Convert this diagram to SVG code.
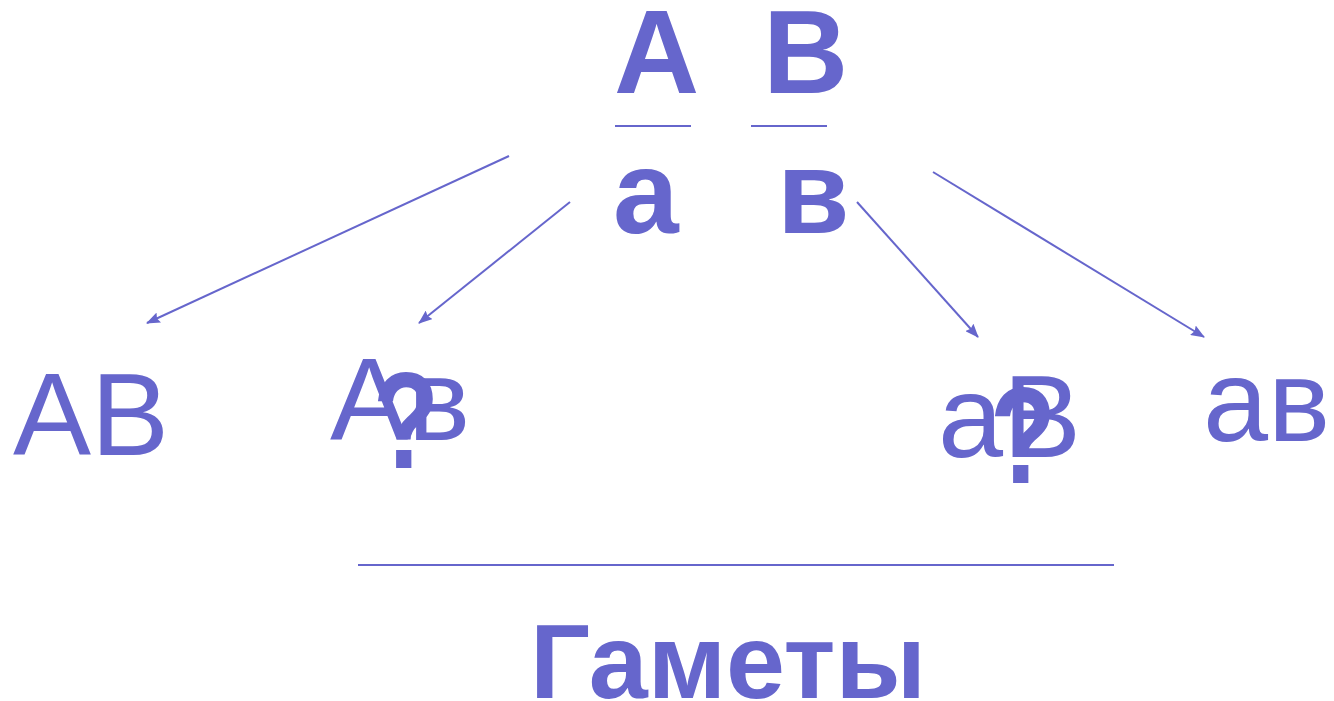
<svg xmlns="http://www.w3.org/2000/svg" width="1334" height="701" viewBox="0 0 1334 701">
<defs>
<style>
.t{fill:#6666CC;font-family:"Liberation Sans",Arial,sans-serif}
.b{font-weight:bold}
.ln{stroke:#6666CC;stroke-width:2;fill:none}
.ar{stroke:#6666CC;stroke-width:2;fill:none}
</style>
<marker id="ah" viewBox="0 0 14 11" refX="13" refY="5.5" markerWidth="14" markerHeight="11" markerUnits="userSpaceOnUse" orient="auto">
<path d="M0,0 L14,5.5 L0,11 L2,5.5 Z" fill="#6666CC"/>
</marker>
</defs>
<rect width="1334" height="701" fill="#ffffff"/>
<g id="parent">
<text class="t b" x="614" y="93" font-size="118">A</text>
<text class="t b" x="763" y="93" font-size="118">B</text>
<line class="ln" x1="615" y1="126" x2="691" y2="126"/>
<line class="ln" x1="751" y1="126" x2="827" y2="126"/>
<text class="t b" x="613" y="233" font-size="118">a</text>
<text class="t b" x="777" y="233" font-size="118">в</text>
</g>
<g id="connectors">
<line class="ar" x1="509" y1="156" x2="147" y2="323" marker-end="url(#ah)"/>
<line class="ar" x1="570" y1="202" x2="419" y2="323" marker-end="url(#ah)"/>
<line class="ar" x1="857" y1="202" x2="978" y2="337" marker-end="url(#ah)"/>
<line class="ar" x1="933" y1="172" x2="1204" y2="337" marker-end="url(#ah)"/>
</g>
<g id="gamete-AB">
<text class="t" x="13" y="455" font-size="117">AB</text>
</g>
<g id="gamete-Av">
<text class="t" x="330" y="440" font-size="117">Aв</text>
<text class="t b" font-size="108" transform="translate(373,468) scale(1,1.28)">?</text>
</g>
<g id="gamete-aB">
<text class="t" x="938" y="457" font-size="117">aB</text>
<text class="t b" font-size="108" transform="translate(990,483) scale(1,1.28)">?</text>
</g>
<g id="gamete-av">
<text class="t" x="1203" y="441" font-size="117">ав</text>
</g>
<g id="gametes-label">
<line class="ln" x1="358" y1="565" x2="1114" y2="565"/>
<text class="t b" x="530" y="698" font-size="106">Гаметы</text>
</g>
</svg>
